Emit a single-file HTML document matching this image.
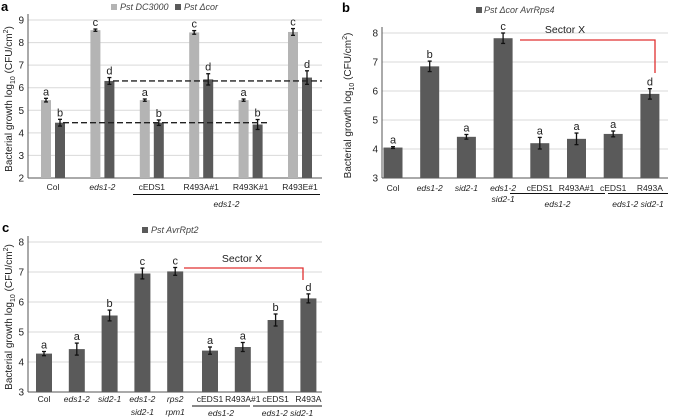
<!DOCTYPE html>
<html><head><meta charset="utf-8"><style>
html,body{margin:0;padding:0;background:#fff;}
svg{display:block;font-family:"Liberation Sans",sans-serif;}
</style></head><body>
<svg id="fig" width="676" height="417" viewBox="0 0 676 417" xmlns="http://www.w3.org/2000/svg"></svg>
<script>
// Panel a data
const aCats = ["Col","eds1-2","cEDS1","R493A#1","R493K#1","R493E#1"];
const aItalic = [false,true,false,false,false,false];
const aDC3000 = [5.45,8.55,5.45,8.45,5.45,8.47];
const aDC3000Err = [0.08,0.05,0.05,0.08,0.05,0.15];
const aCor = [4.45,6.3,4.45,6.37,4.37,6.45];
const aCorErr = [0.15,0.15,0.12,0.25,0.22,0.3];
const aLetDC = ["a","c","a","c","a","c"];
const aLetCor = ["b","d","b","d","b","d"];
const aTicks = [2,3,4,5,6,7,8,9];
// Panel b data
const bCats = [["Col"],["eds1-2"],["sid2-1"],["eds1-2","sid2-1"],["cEDS1"],["R493A#1"],["cEDS1"],["R493A"]];
const bItalic = [false,true,true,true,false,false,false,false];
const bVals = [4.05,6.85,4.42,7.82,4.2,4.35,4.52,5.9];
const bErr = [0.03,0.18,0.08,0.18,0.2,0.2,0.1,0.18];
const bLet = ["a","b","a","c","a","a","a","d"];
const bTicks = [3,4,5,6,7,8];
// Panel c data
const cCats = [["Col"],["eds1-2"],["sid2-1"],["eds1-2","sid2-1"],["rps2","rpm1"],["cEDS1"],["R493A#1"],["cEDS1"],["R493A"]];
const cItalic = [false,true,true,true,true,false,false,false,false];
const cVals = [4.28,4.43,5.55,6.95,7.02,4.38,4.5,5.4,6.12];
const cErr = [0.07,0.2,0.18,0.18,0.13,0.12,0.15,0.2,0.15];
const cLet = ["a","a","b","c","c","a","a","b","d"];
const cTicks = [3,4,5,6,7,8];

const NS="http://www.w3.org/2000/svg";
const svg=document.getElementById('fig');
function el(tag,attrs,parent){const e=document.createElementNS(NS,tag);for(const k in attrs)e.setAttribute(k,attrs[k]);(parent||svg).appendChild(e);return e;}
function txt(s,x,y,size,opts,parent){const t=el('text',Object.assign({x:x,y:y,'font-size':size,fill:'#222','text-anchor':'middle'},opts||{}),parent);t.textContent=s;return t;}

function panel(cfg){
  const g=el('g',{});
  
  
  const y=v=>cfg.y0+(v-cfg.vmin)*(cfg.y1-cfg.y0)/(cfg.vmax-cfg.vmin);
  cfg.ticks.forEach(t=>{
    const gl=el('line',{x1:cfg.xl,x2:cfg.xr,y1:y(t),y2:y(t),stroke:'#d9d9d9','stroke-width':1},g);
    
    
    const tl=txt(String(t),cfg.xl-4,y(t)+3.5,10,{'text-anchor':'end'},g);
    
    
  });
  el('line',{x1:cfg.xl,x2:cfg.xl,y1:cfg.y1-6,y2:cfg.y0,stroke:'#555','stroke-width':1},g);
  el('line',{x1:cfg.xl,x2:cfg.xr,y1:cfg.y0,y2:cfg.y0,stroke:'#555','stroke-width':1},g);
  const tx=cfg.titleX, ty=(cfg.y0+cfg.y1)/2;
  const yt=el('text',{x:tx,y:ty,'font-size':10,fill:'#222','text-anchor':'middle',transform:`rotate(-90 ${tx} ${ty})`},g);
  
  
  yt.innerHTML='Bacterial growth log<tspan font-size="7" dy="3">10</tspan><tspan dy="-3"> (CFU/cm</tspan><tspan font-size="7" dy="-4">2</tspan><tspan dy="4">)</tspan>';
  return {g,y};
}
function bar(g,x,w,v,e,color,y,letter){
  const r=el('rect',{x:x-w/2,y:y(v),width:w,height:y(g._vmin)-y(v),fill:color},g);
  
  
  const top=y(v+e), bot=y(v-e);
  el('line',{x1:x,x2:x,y1:top,y2:bot,stroke:'#111','stroke-width':1.3},g);
  el('line',{x1:x-2,x2:x+2,y1:top,y2:top,stroke:'#111','stroke-width':1.3},g);
  el('line',{x1:x-2,x2:x+2,y1:bot,y2:bot,stroke:'#111','stroke-width':1.3},g);
  const l=txt(letter,x,top-3,11,{},g);
  
  
}
function catLabel(g,lines,x,yy,italic,lh){
  lines.forEach((s,i)=>{
    const t=txt(s,x,yy+i*(lh||11),8.5,italic?{'font-style':'italic'}:{},g);
    
    
  });
}
function groupLine(g,x1,x2,yy,label,ly){
  el('line',{x1:x1,x2:x2,y1:yy,y2:yy,stroke:'#111','stroke-width':1},g);
  const t=txt(label,(x1+x2)/2,ly,8.5,{'font-style':'italic'},g);
  
  
}
function panelLetter(s,x,yy){const t=txt(s,x,yy,13,{'font-weight':'bold','text-anchor':'start',fill:'#000'});}

// ---- Panel a ----
(function(){
  const cfg={name:'panel-a-chart',xl:28,xr:322,y0:178,y1:20,vmin:2,vmax:9,ticks:aTicks,titleX:12};
  const {g,y}=panel(cfg); g._vmin=2;
  const step=49.4, x0=53;
  aCats.forEach((c,i)=>{
    const cx=x0+i*step;
    bar(g,cx-7,10,aDC3000[i],aDC3000Err[i],'#b4b4b4',y,aLetDC[i]);
    bar(g,cx+7,10,aCor[i],aCorErr[i],'#5a5a5a',y,aLetCor[i]);
    catLabel(g,[c],cx,190,aItalic[i]);
  });
  const d1=el('line',{x1:113,x2:322,y1:y(aCor[1]),y2:y(aCor[1]),stroke:'#222','stroke-width':1.4,'stroke-dasharray':'6,3'},g);
  
  const d2=el('line',{x1:63,x2:270,y1:y(aCor[0]),y2:y(aCor[0]),stroke:'#222','stroke-width':1.4,'stroke-dasharray':'6,3'},g);
  
  groupLine(g,133,320,194.5,'eds1-2',207);
  const l1=el('rect',{x:111,y:4,width:6,height:6,fill:'#b4b4b4'},g);
  const t1=txt('Pst DC3000',120,10,9,{'text-anchor':'start','font-style':'italic',fill:'#444'},g);
  const l2=el('rect',{x:175,y:4,width:6,height:6,fill:'#5a5a5a'},g);
  const t2=txt('Pst \u0394cor',184,10,9,{'text-anchor':'start','font-style':'italic',fill:'#444'},g);
})();
panelLetter('a',1,11);

// ---- Panel b ----
(function(){
  const cfg={name:'panel-b-chart',xl:382,xr:668,y0:178,y1:33,vmin:3,vmax:8,ticks:bTicks,titleX:351};
  const {g,y}=panel(cfg); g._vmin=3;
  const x0=393, step=36.7;
  bVals.forEach((v,i)=>{
    const cx=x0+i*step;
    bar(g,cx,19,v,bErr[i],'#5a5a5a',y,bLet[i]);
    catLabel(g,bCats[i],cx,191,bItalic[i],11);
  });
  groupLine(g,510,605,193.5,'eds1-2',207);
  groupLine(g,608,668,193.5,'eds1-2 sid2-1',207);
  const rl=el('polyline',{points:`520,40 655,40 655,73`,fill:'none',stroke:'#e03030','stroke-width':1.3},g);
  
  const st=txt('Sector X',565,33,10.5,{},g);
  const ls=el('rect',{x:476,y:7,width:6,height:6,fill:'#5a5a5a'},g);
  const lt=txt('Pst \u0394cor AvrRps4',484,13,9,{'text-anchor':'start','font-style':'italic',fill:'#444'},g);
})();
panelLetter('b',342,12);

// ---- Panel c ----
(function(){
  const cfg={name:'panel-c-chart',xl:28,xr:322,y0:392,y1:242,vmin:3,vmax:8,ticks:cTicks,titleX:12};
  const {g,y}=panel(cfg); g._vmin=3;
  const x0=44, step=32.8;
  cVals.forEach((v,i)=>{
    const cx=x0+i*step + (i>=5?2:0);
    bar(g,cx,16,v,cErr[i],'#5a5a5a',y,cLet[i]);
    catLabel(g,cCats[i],cx,402,cItalic[i],13);
  });
  groupLine(g,192,250,406,'eds1-2',416);
  groupLine(g,253,322,406,'eds1-2 sid2-1',416);
  const rl=el('polyline',{points:`184,268 303,268 303,280`,fill:'none',stroke:'#e03030','stroke-width':1.3},g);
  
  const st=txt('Sector X',242,262,10.5,{},g);
  const ls=el('rect',{x:142,y:227,width:6,height:6,fill:'#5a5a5a'},g);
  const lt=txt('Pst AvrRpt2',151,233,9,{'text-anchor':'start','font-style':'italic',fill:'#444'},g);
})();
panelLetter('c',2,232);
</script>
</body></html>
